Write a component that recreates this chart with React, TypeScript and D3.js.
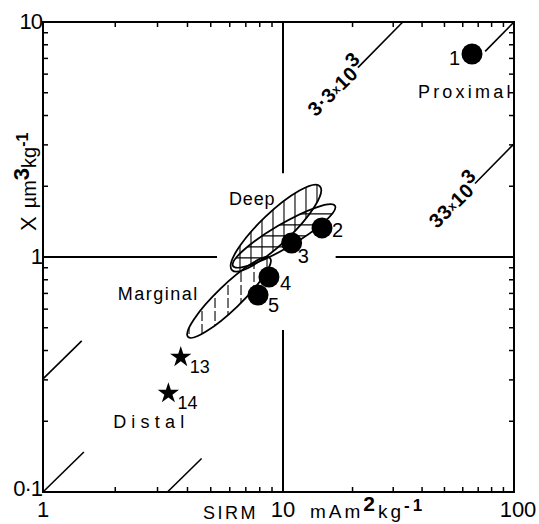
import React from "react";
import * as d3 from "d3";

// axis decades and labels
const xDecades = [1, 10, 100];
const yDecades = [0.1, 1, 10];
const xTickLabels = ["1", "10", "100"];
const yTickLabels = ["0·1", "1", "10"];
const xMinor = [2, 3, 4, 5, 6, 7, 8, 9, 20, 30, 40, 50, 60, 70, 80, 90];
const yMinor = [0.2, 0.3, 0.4, 0.5, 0.6, 0.7, 0.8, 0.9, 2, 3, 4, 5, 6, 7, 8, 9];

// sites (circles)
const siteIds = ["1", "2", "3", "4", "5"];
const siteSirm = [65.8, 14.75, 10.9, 8.74, 7.87];
const siteChi = [7.31, 1.33, 1.147, 0.822, 0.689];
const siteLabelDx = [-12, 10, 6, 11, 10];
const siteLabelDy = [11, 9, 20, 13, 17];

// distal sites (stars)
const starIds = ["13", "14"];
const starSirm = [3.75, 3.33];
const starChi = [0.375, 0.263];

// SIRM/chi ratio lines (x10^3), drawn only in pieces
const ratios = [3.3, 10, 33];
const ratioPieces = [
  [[1, 1.45], [21.1, 33]],
  [[1, 1.48], [75, 100]],
  [[3.3, 4.58], [67.8, 100]],
];
const ratioLabelText = ["3·3", "", "33"];
const ratioLabelAt = [13.6, 0, 45.5];

// hatched zones: two tips in data space + half width in decades
const zoneTipA = [[6.13, 0.88], [6.19, 0.916], [4.02, 0.457]];
const zoneTipB = [[14.45, 2.0], [16.8, 1.65], [8.83, 0.99]];
const zoneHalf = [0.066, 0.05, 0.052];
const zoneHatch = ["v", "h", "v"];

// group names
const groupNames = ["Deep", "Marginal", "Distal", "Proximal"];
const groupSirm = [5.96, 2.05, 1.96, 38.4];
const groupChi = [1.66, 0.656, 0.187, 4.75];
const groupSpacing = [0.8, 1.5, 5.2, 3.2];

const W = 539, H = 524;
const font = "'Liberation Sans', Arial, sans-serif";

export default function App() {
  const x = d3.scaleLog().domain(xDecades).range([43, 283, 514]);
  const y = d3.scaleLog().domain(yDecades).range([492, 257, 22]);
  const [x0, x1] = [x(1), x(100)];
  const [y0, y1] = [y(0.1), y(10)];
  const tl = 5;

  const star = d3.symbol().type(d3.symbolStar).size(140)();

  const zones = zoneTipA.map((a, i) => {
    const b = zoneTipB[i];
    const ax = x(a[0]), ay = y(a[1]), bx = x(b[0]), by = y(b[1]);
    const cx = (ax + bx) / 2, cy = (ay + by) / 2;
    const rx = Math.hypot(bx - ax, by - ay) / 2;
    const ry = zoneHalf[i] * 235;
    const ang = (Math.atan2(by - ay, bx - ax) * 180) / Math.PI;
    return { cx, cy, rx, ry, ang, ax, ay, bx, by };
  });

  return (
    <svg width={W} height={H} style={{ position: "absolute", left: 0, top: 0, background: "#fff" }}
      fontFamily={font}>
      <defs>
        {zones.map((z, i) => (
          <clipPath id={"zone" + i} key={i}>
            <ellipse cx={z.cx} cy={z.cy} rx={z.rx} ry={z.ry} transform={`rotate(${z.ang},${z.cx},${z.cy})`} />
          </clipPath>
        ))}
      </defs>

      {/* frame */}
      <rect x={x0} y={y1} width={x1 - x0} height={y0 - y1} fill="none" stroke="#000" strokeWidth={2} />

      {/* minor ticks */}
      {xMinor.map((v) => (
        <g key={"xt" + v} stroke="#000" strokeWidth={1.5}>
          <line x1={x(v)} x2={x(v)} y1={y0} y2={y0 - tl} />
          <line x1={x(v)} x2={x(v)} y1={y1} y2={y1 + tl} />
        </g>
      ))}
      {yMinor.map((v) => (
        <g key={"yt" + v} stroke="#000" strokeWidth={1.5}>
          <line x1={x0} x2={x0 + tl} y1={y(v)} y2={y(v)} />
          <line x1={x1} x2={x1 - tl} y1={y(v)} y2={y(v)} />
        </g>
      ))}

      {/* centre cross at 10, 1 */}
      <g stroke="#000" strokeWidth={2}>
        <line x1={x(1)} x2={x(5.31)} y1={y(1)} y2={y(1)} />
        <line x1={x(16.9)} x2={x(100)} y1={y(1)} y2={y(1)} />
        <line x1={x(10)} x2={x(10)} y1={y(10)} y2={y(2.27)} />
        <line x1={x(10)} x2={x(10)} y1={y(0.489)} y2={y(0.1)} />
      </g>

      {/* ratio lines */}
      {ratios.map((r, i) =>
        ratioPieces[i].map((p, j) => (
          <line key={"r" + i + j} x1={x(p[0])} y1={y(p[0] / r)} x2={x(p[1])} y2={y(p[1] / r)}
            stroke="#000" strokeWidth={1.6} />
        ))
      )}
      {ratios.map((r, i) => {
        if (!ratioLabelText[i]) return null;
        const lx = x(ratioLabelAt[i]), ly = y(ratioLabelAt[i] / r);
        const ang = (Math.atan2(y(10) - y(1), x(10) - x(1)) * 180) / Math.PI;
        return (
          <text key={"rl" + i} transform={`translate(${lx + 2},${ly + 5}) rotate(${ang})`}
            fontSize={20} fontWeight="bold" fill="#000" style={{ letterSpacing: "0.5px" }}>
            {ratioLabelText[i]}
            <tspan fontSize={12} dy={-2}>x</tspan>
            <tspan dy={2}>10</tspan>
            <tspan dy={-9}>3</tspan>
          </text>
        );
      })}

      {/* hatched zones */}
      {zones.map((z, i) => {
        const minX = Math.min(z.ax, z.bx) - 25, maxX = Math.max(z.ax, z.bx) + 25;
        const minY = Math.min(z.ay, z.by) - 25, maxY = Math.max(z.ay, z.by) + 25;
        const step = i === 2 ? 13 : 11;
        const lines =
          zoneHatch[i] === "v"
            ? d3.range(minX, maxX, step).map((v) => [v, minY, v, maxY])
            : d3.range(minY, maxY, step).map((v) => [minX, v, maxX, v]);
        return (
          <g key={"z" + i} clipPath={`url(#zone${i})`} stroke="#000" strokeWidth={1.1}>
            {lines.map((l, k) => (
              <line key={k} x1={l[0]} y1={l[1]} x2={l[2]} y2={l[3]}
                strokeDasharray={i === 2 ? "10 3" : undefined} />
            ))}
          </g>
        );
      })}
      {zones.map((z, i) => (
        <ellipse key={"ze" + i} cx={z.cx} cy={z.cy} rx={z.rx} ry={z.ry}
          transform={`rotate(${z.ang},${z.cx},${z.cy})`} fill="none" stroke="#000" strokeWidth={1.8} />
      ))}

      {/* sites */}
      {siteIds.map((id, i) => (
        <g key={"s" + id}>
          <circle cx={x(siteSirm[i])} cy={y(siteChi[i])} r={10.5} fill="#000" />
          <text x={x(siteSirm[i]) + siteLabelDx[i]} y={y(siteChi[i]) + siteLabelDy[i]}
            textAnchor={siteLabelDx[i] < 0 ? "end" : "start"} fontSize={20}>{id}</text>
        </g>
      ))}
      {starIds.map((id, i) => (
        <g key={"st" + id}>
          <path d={star} transform={`translate(${x(starSirm[i])},${y(starChi[i])})`} fill="#000" />
          <text x={x(starSirm[i]) + 9} y={y(starChi[i]) + 16} fontSize={18}>{id}</text>
        </g>
      ))}

      {/* group names */}
      {groupNames.map((g, i) => (
        <text key={g} x={x(groupSirm[i])} y={y(groupChi[i])} fontSize={18}
          style={{ letterSpacing: groupSpacing[i] + "px" }}>{g}</text>
      ))}

      {/* tick labels */}
      {xDecades.map((v, i) => (
        <text key={"xl" + v} x={x(v) + (i === 2 ? 4 : 0)} y={517} textAnchor="middle" fontSize={22}>
          {xTickLabels[i]}
        </text>
      ))}
      {yDecades.map((v, i) => (
        <text key={"yl" + v} x={x0 - 1} y={y(v) + (i === 0 ? 4 : 7)} textAnchor="end" fontSize={22}
          style={{ letterSpacing: "-1px" }}>
          {yTickLabels[i]}
        </text>
      ))}

      {/* axis titles */}
      <text x={203} y={519} fontSize={18} style={{ letterSpacing: "2.5px" }}>SIRM</text>
      <text x={310} y={518} fontSize={19} style={{ letterSpacing: "3px" }}>
        mAm<tspan dy={-7} fontSize={21} fontWeight="bold">2</tspan>
        <tspan dy={7}>kg</tspan>
        <tspan dy={-7} fontSize={17} fontWeight="bold">-1</tspan>
      </text>
      <text transform="translate(36,231) rotate(-90)" fontSize={22}>
        X
        <tspan dx={8} fontSize={20}>µm</tspan>
        <tspan dy={-7} fontSize={22} fontWeight="bold">3</tspan>
        <tspan dy={7} fontSize={20}>kg</tspan>
        <tspan dy={-8} fontSize={16} fontWeight="bold">-1</tspan>
      </text>
    </svg>
  );
}
